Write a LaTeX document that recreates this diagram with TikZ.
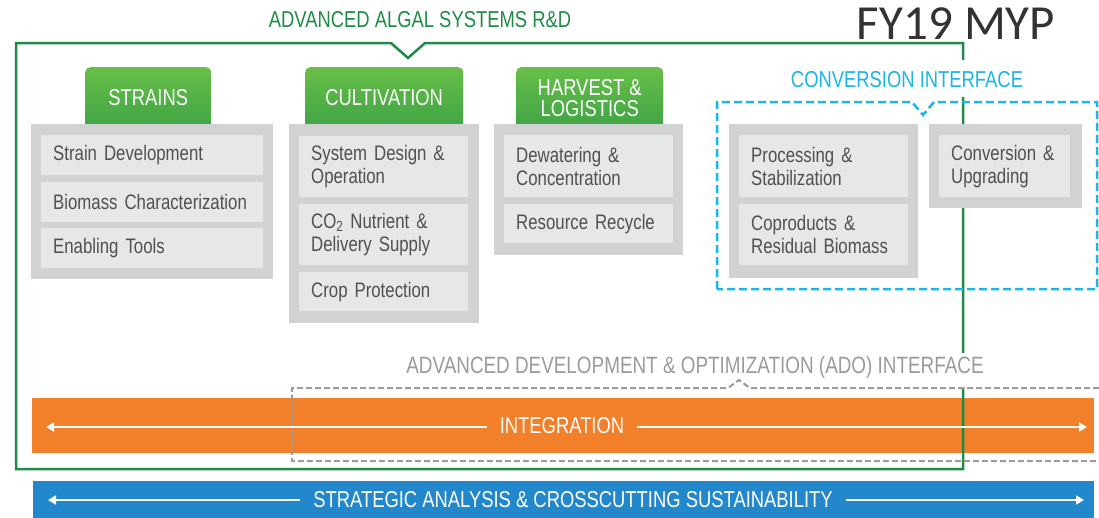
\documentclass[tikz,border=0pt]{standalone}
\usepackage{fontspec}
\setmainfont{Liberation Sans}[FakeStretch=0.8]
\newfontfamily\fyfont{Carlito}
\usetikzlibrary{arrows.meta}
\definecolor{framegreen}{HTML}{1E8C45}
\definecolor{tabtop}{HTML}{68BE48}
\definecolor{tabbot}{HTML}{3EA445}
\definecolor{boxgray}{HTML}{D1D2D4}
\definecolor{itemgray}{HTML}{E6E7E8}
\definecolor{txtgray}{HTML}{505053}
\definecolor{cyanline}{HTML}{1CB5EA}
\definecolor{adogray}{HTML}{9B9B9B}
\definecolor{orangebar}{HTML}{F2802B}
\definecolor{bluebar}{HTML}{2388CB}
\definecolor{fygray}{HTML}{333333}
\tikzset{
  graybox/.style={fill=boxgray, draw=none, anchor=north west, inner sep=0pt},
  item/.style={fill=itemgray, draw=none, anchor=north west, text=txtgray,
    font=\fontsize{21}{23}\selectfont, align=left, inner xsep=12pt, inner ysep=0pt},
  tab/.style={rounded corners=5pt, top color=tabtop, bottom color=tabbot, draw=none,
    text=white, font=\fontsize{23}{21}\selectfont, align=center, anchor=north west,
    minimum height=62pt, inner sep=0pt},
  label/.style={font=\fontsize{23}{25}\selectfont, inner sep=0pt},
  masklabel/.style={label, fill=white, anchor=base, inner xsep=3pt},
  bar/.style={draw=none, anchor=north west, inner sep=0pt},
  bartext/.style={text=white, font=\fontsize{23}{25}\selectfont, inner xsep=13pt, inner ysep=0pt},
  warrow/.style={draw=white, line width=2.3pt, -{Triangle[length=8pt,width=9pt]}},
  greenframe/.style={draw=framegreen, line width=2.5pt},
  cyandash/.style={draw=cyanline, line width=2.5pt, dash pattern=on 8pt off 4pt},
  adodash/.style={draw=adogray, line width=2pt, dash pattern=on 6pt off 3pt},
}
\begin{document}
\begin{tikzpicture}[x=1pt,y=-1pt]
\useasboundingbox (0,0) rectangle (1099,517);
\fill[white] (0,0) rectangle (1099,517);

% orange integration bar
\node[bar, fill=orangebar, minimum width=1062pt, minimum height=55pt] (intbar) at (32,398) {};

% green frame
\draw[greenframe] (16,43) -- (391,43) -- (408,58) -- (425,43) -- (963,43) -- (963,469) -- (16,469) -- cycle;
\node[label, text=framegreen] (title) at (420,20) {ADVANCED ALGAL SYSTEMS R\&D};

% FY19 MYP
\node[font=\fyfont\fontsize{49}{52}\selectfont, text=fygray, inner sep=0pt] (fy) at (956,24) {FY19 MYP};

% tabs
\node[tab, minimum width=126pt] (tabS) at (85,67) {\raisebox{2pt}{STRAINS}};
\node[tab, minimum width=158pt] (tabC) at (305,67) {\raisebox{2pt}{CULTIVATION}};
\node[tab, minimum width=147pt] (tabH) at (516,67) {HARVEST \&\\LOGISTICS};

% strains
\node[graybox, minimum width=242pt, minimum height=155pt] (gS) at (31,124) {};
\node[item, text width=198pt, minimum height=40pt] (s1) at (41,135) {Strain Development};
\node[item, text width=198pt, minimum height=40pt] (s2) at (41,182) {Biomass Characterization};
\node[item, text width=198pt, minimum height=40pt] (s3) at (41,228) {Enabling Tools};

% cultivation
\node[graybox, minimum width=190pt, minimum height=199pt] (gC) at (289,124) {};
\node[item, text width=145pt, minimum height=61pt] (c1) at (299,136) {System Design \&\\Operation};
\node[item, text width=145pt, minimum height=61pt] (c2) at (299,204) {CO\textsubscript{2} Nutrient \&\\Delivery Supply};
\node[item, text width=145pt, minimum height=39pt] (c3) at (299,272) {Crop Protection};

% harvest
\node[graybox, minimum width=189pt, minimum height=131pt] (gH) at (494,124) {};
\node[item, text width=145pt, minimum height=62pt] (h1) at (504,135) {Dewatering \&\\Concentration};
\node[item, text width=145pt, minimum height=39pt] (h2) at (504,204) {Resource Recycle};

% conversion interface
\node[masklabel, text=cyanline, text height=27pt, text depth=10pt] (convlabel) at (907,87) {CONVERSION INTERFACE};
\draw[cyandash] (717,289) -- (717,102) -- (912,102) -- (923,115) -- (934,102) -- (1097,102) -- (1097,289) -- cycle;
\node[graybox, minimum width=189pt, minimum height=154pt] (gP) at (729,124) {};
\node[item, text width=145pt, minimum height=62pt] (p1) at (739,135) {Processing \&\\Stabilization};
\node[item, text width=145pt, minimum height=61pt] (p2) at (739,204) {Coproducts \&\\Residual Biomass};
\node[graybox, minimum width=153pt, minimum height=84pt] (gU) at (929,124) {};
\node[item, text width=107pt, minimum height=62pt] (u1) at (939,135) {Conversion \&\\Upgrading};

% ADO interface
\node[masklabel, text=adogray, font=\fontsize{23.6}{25}\selectfont, text height=20pt, text depth=14pt] (adolabel) at (695,373) {ADVANCED DEVELOPMENT \& OPTIMIZATION (ADO) INTERFACE};
\draw[adodash] (1099,388) -- (750,388) -- (739,380) -- (728,388) -- (292,388) -- (292,461) -- (1099,461);

% integration
\node[bartext] (inttext) at (562,426) {INTEGRATION};
\coordinate (intL) at (46,427);
\coordinate (intR) at (1087,427);
\draw[warrow] (inttext.west |- intL) -- (intL);
\draw[warrow] (inttext.east |- intR) -- (intR);

% strategic analysis bar
\node[bar, fill=bluebar, minimum width=1061pt, minimum height=37pt] (sabar) at (33,481) {};
\node[bartext] (satext) at (573,500) {STRATEGIC ANALYSIS \& CROSSCUTTING SUSTAINABILITY};
\coordinate (saL) at (48,500);
\coordinate (saR) at (1084,500);
\draw[warrow] (satext.west |- saL) -- (saL);
\draw[warrow] (satext.east |- saR) -- (saR);
\end{tikzpicture}
\end{document}
